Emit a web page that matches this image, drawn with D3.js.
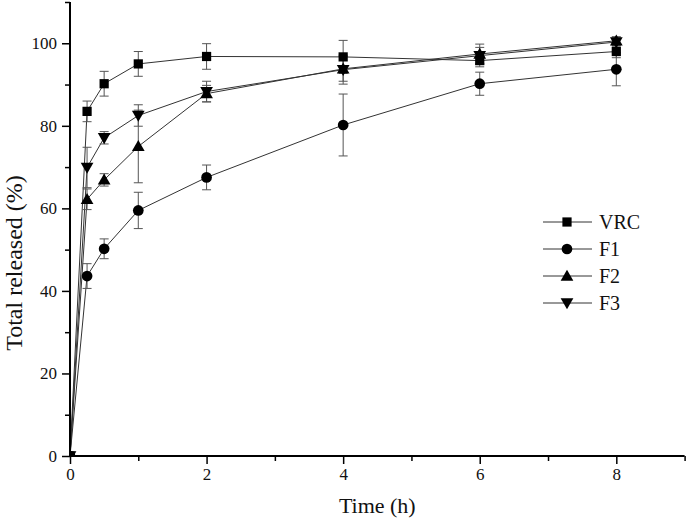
<!DOCTYPE html>
<html><head><meta charset="utf-8">
<script src="https://cdn.jsdelivr.net/npm/d3@7/dist/d3.min.js"></script>
<style>body{margin:0;background:#fff}svg{display:block}text{font-family:"Liberation Serif","Times New Roman",serif;fill:#111}</style>
</head><body><svg id="c" width="686" height="518"></svg>
<script>
const times = [0, 0.25, 0.5, 1, 2, 4, 6, 8];
const seriesNames = ["VRC", "F1", "F2", "F3"];
const vrc = [0, 83.5, 90.2, 95.0, 96.8, 96.7, 95.8, 98.0];
const vrcErr = [0, 2.5, 3.0, 3.0, 3.1, 4.0, 1.5, 1.5];
const f1 = [0, 43.6, 50.2, 59.5, 67.5, 80.2, 90.2, 93.7];
const f1Err = [0, 3.0, 2.4, 4.4, 3.0, 7.5, 2.8, 4.0];
const f2 = [0, 62.2, 66.9, 75.0, 87.8, 93.8, 97.4, 100.6];
const f2Err = [0, 2.5, 1.5, 8.8, 2.0, 3.0, 2.4, 1.0];
const f3 = [0, 69.9, 77.1, 82.5, 88.3, 93.6, 97.0, 100.3];
const f3Err = [0, 4.9, 1.5, 2.6, 2.5, 3.5, 2.0, 1.0];
const xTicks = [0, 2, 4, 6, 8];
const yTicks = [0, 20, 40, 60, 80, 100];
const xLabel = "Time (h)";
const yLabel = "Total released (%)";

const values = [vrc, f1, f2, f3];
const errs = [vrcErr, f1Err, f2Err, f3Err];
const shapes = [d3.symbolSquare, d3.symbolCircle, d3.symbolTriangle, d3.symbolTriangle];
const sizes = [85, 90, 70, 70];
const rotations = [0, 0, 0, 180];

const svg = d3.select("#c");
const x = d3.scaleLinear().domain([0, 9]).range([70, 684.6]);
const y = d3.scaleLinear().domain([0, 110]).range([456, 2]);

const series = seriesNames.map((n, i) => ({
  name: n, i,
  pts: times.map((t, j) => ({t, v: values[i][j], e: errs[i][j]}))
}));

svg.append("clipPath").attr("id", "clip").append("rect")
  .attr("x", 70).attr("y", 0).attr("width", 620).attr("height", 456);

const plot = svg.append("g").attr("clip-path", "url(#clip)");
const line = d3.line().x(d => x(d.t)).y(d => y(d.v));

series.forEach(s => {
  plot.append("path").datum(s.pts).attr("d", line)
    .attr("fill", "none").attr("stroke", "#333").attr("stroke-width", 1);
});
series.forEach(s => {
  const g = plot.append("g").attr("stroke", "#555").attr("stroke-width", 1);
  s.pts.filter(d => d.e > 0).forEach(d => {
    g.append("line").attr("x1", x(d.t)).attr("x2", x(d.t)).attr("y1", y(d.v - d.e)).attr("y2", y(d.v + d.e));
    [d.v - d.e, d.v + d.e].forEach(v => g.append("line")
      .attr("x1", x(d.t) - 4.5).attr("x2", x(d.t) + 4.5).attr("y1", y(v)).attr("y2", y(v)));
  });
});
series.forEach(s => {
  const sym = d3.symbol().type(shapes[s.i]).size(sizes[s.i]);
  plot.selectAll(null).data(s.pts).enter().append("path")
    .attr("d", sym)
    .attr("transform", d => `translate(${x(d.t)},${y(d.v) + (shapes[s.i] === d3.symbolTriangle ? (rotations[s.i] ? -1 : 1) : 0)}) rotate(${rotations[s.i]})`)
    .attr("fill", "#000");
});

// Axes
const xAxis = svg.append("g").attr("transform", "translate(0,456)")
  .call(d3.axisBottom(x).tickValues(xTicks).tickSize(8).tickPadding(4).tickFormat(d3.format("d")));
svg.append("g").attr("transform", "translate(0,456)")
  .call(d3.axisBottom(x).tickValues([1, 3, 5, 7, 9]).tickSize(5).tickFormat(""))
  .call(g => g.select(".domain").remove());
const yAxis = svg.append("g").attr("transform", "translate(70,0)")
  .call(d3.axisLeft(y).tickValues(yTicks).tickSize(8).tickPadding(5).tickFormat(d3.format("d")));
svg.append("g").attr("transform", "translate(70,0)")
  .call(d3.axisLeft(y).tickValues([10, 30, 50, 70, 90, 110]).tickSize(5).tickFormat(""))
  .call(g => g.select(".domain").remove());

svg.selectAll(".domain").attr("stroke", "#000").attr("stroke-width", 2);
svg.selectAll(".tick line").attr("stroke", "#000").attr("stroke-width", 1.5);
svg.selectAll(".tick text").attr("font-size", 17).attr("font-family", "Liberation Serif").attr("fill", "#111");
xAxis.selectAll(".domain").attr("d", `M70,0H684.6`);
yAxis.selectAll(".domain").attr("d", `M0,456V2`);

svg.append("text").attr("x", x(4.5)).attr("y", 513).attr("text-anchor", "middle")
  .attr("font-size", 22).text(xLabel);
svg.append("text").attr("transform", "translate(22,263) rotate(-90)").attr("text-anchor", "middle")
  .attr("font-size", 24).text(yLabel);

// Legend
const lg = svg.append("g");
series.forEach((s, i) => {
  const ly = 222 + i * 27;
  lg.append("line").attr("x1", 543).attr("x2", 592).attr("y1", ly).attr("y2", ly).attr("stroke", "#333").attr("stroke-width", 1);
  lg.append("path").attr("d", d3.symbol().type(shapes[i]).size(sizes[i])())
    .attr("transform", `translate(567,${ly + (shapes[i] === d3.symbolTriangle ? (rotations[i] ? -1 : 1) : 0)}) rotate(${rotations[i]})`).attr("fill", "#000");
  lg.append("text").attr("x", 599).attr("y", ly + 7).attr("font-size", 20).text(s.name);
});
</script></body></html>
